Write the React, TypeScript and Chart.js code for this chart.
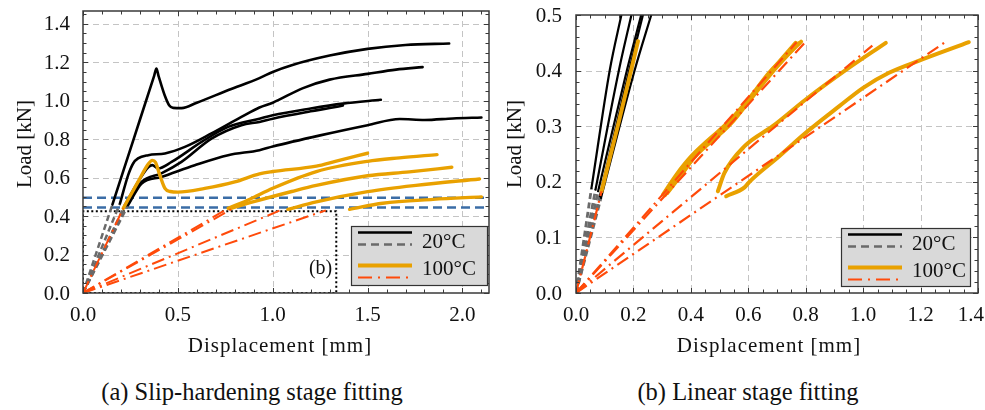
import React, { useEffect, useRef } from "react";
import { Chart, registerables } from "chart.js";

Chart.register(...registerables);

type Pt = [number, number];

// ---------------- panel (a): slip-hardening stage ----------------
const aXTicks = [0, 0.5, 1.0, 1.5, 2.0];
const aYTicks = [0, 0.2, 0.4, 0.6, 0.8, 1.0, 1.2, 1.4];
const aXMax = 2.14;
const aYMax = 1.467;

// 20 °C specimens, measured load above the linear stage [mm, kN]
const a20A: Pt[] = [[0.155, 0.46], [0.27, 0.81], [0.375, 1.13], [0.387, 1.167], [0.398, 1.13], [0.43, 1.03], [0.455, 0.975], [0.475, 0.963], [0.52, 0.962], [0.6, 0.99], [0.77, 1.057], [0.93, 1.118], [1.0, 1.15], [1.1, 1.185], [1.3, 1.235], [1.5, 1.27], [1.7, 1.29], [1.93, 1.298]];
const a20B: Pt[] = [[0.195, 0.466], [0.238, 0.613], [0.265, 0.675], [0.29, 0.7], [0.344, 0.717], [0.432, 0.726], [0.537, 0.76], [0.677, 0.83], [0.835, 0.916], [0.93, 0.965], [1.0, 0.99], [1.16, 1.066], [1.3, 1.11], [1.5, 1.14], [1.65, 1.162], [1.79, 1.175]];
const a20C: Pt[] = [[0.221, 0.457], [0.29, 0.578], [0.345, 0.655], [0.365, 0.665], [0.396, 0.648], [0.467, 0.682], [0.625, 0.786], [0.765, 0.864], [0.93, 0.907], [1.0, 0.925], [1.2, 0.96], [1.37, 0.985], [1.57, 1.005]];
const a20D: Pt[] = [[0.23, 0.457], [0.309, 0.578], [0.413, 0.622], [0.519, 0.682], [0.677, 0.803], [0.835, 0.873], [0.93, 0.89], [1.0, 0.907], [1.2, 0.945], [1.3, 0.962], [1.37, 0.975]];
const a20E: Pt[] = [[0.238, 0.457], [0.309, 0.57], [0.413, 0.604], [0.589, 0.665], [0.765, 0.717], [0.93, 0.743], [1.0, 0.762], [1.25, 0.82], [1.5, 0.873], [1.67, 0.905], [1.8, 0.9], [1.95, 0.908], [2.1, 0.913]];

// 100 °C specimens
const a100A: Pt[] = [[0.212, 0.44], [0.29, 0.578], [0.345, 0.672], [0.365, 0.69], [0.382, 0.68], [0.405, 0.613], [0.432, 0.544], [0.46, 0.528], [0.5, 0.525], [0.642, 0.544], [0.8, 0.578], [0.93, 0.62], [1.0, 0.632], [1.23, 0.66], [1.33, 0.685], [1.5, 0.727]];
const a100B: Pt[] = [[0.765, 0.44], [0.879, 0.488], [1.0, 0.545], [1.23, 0.632], [1.5, 0.685], [1.668, 0.703], [1.866, 0.72]];
const a100C: Pt[] = [[0.78, 0.44], [0.9, 0.475], [1.1, 0.528], [1.23, 0.56], [1.5, 0.61], [1.72, 0.63], [1.944, 0.654]];
const a100D: Pt[] = [[1.08, 0.435], [1.23, 0.474], [1.5, 0.527], [1.755, 0.56], [2.09, 0.593]];
const a100E: Pt[] = [[1.405, 0.435], [1.58, 0.467], [1.845, 0.487], [2.1, 0.5]];

// linear-stage fits run from the origin to these points
const aFit20Ends: Pt[] = [[0.155, 0.46], [0.195, 0.466], [0.221, 0.457], [0.23, 0.457], [0.238, 0.457]];
const aFit100Ends: Pt[] = [[0.212, 0.44], [0.765, 0.44], [0.79, 0.44], [1.04, 0.43], [1.28, 0.43]];

// horizontal reference levels and the extent of panel (b)
const aGuideLoads = [0.495, 0.445];
const aZoomBox: Pt = [1.335, 0.425];

// ---------------- panel (b): linear stage ----------------
const bXTicks = [0, 0.2, 0.4, 0.6, 0.8, 1.0, 1.2, 1.4];
const bYTicks = [0, 0.1, 0.2, 0.3, 0.4, 0.5];
const bXMax = 1.4;
const bYMax = 0.5;

const b20A: Pt[] = [[0.054, 0.189], [0.118, 0.402], [0.158, 0.5]];
const b20B: Pt[] = [[0.068, 0.186], [0.15, 0.402], [0.193, 0.5]];
const b20C: Pt[] = [[0.077, 0.183], [0.178, 0.402], [0.227, 0.5]];
const b20D: Pt[] = [[0.083, 0.174], [0.186, 0.402], [0.233, 0.5]];
const b20E: Pt[] = [[0.087, 0.171], [0.205, 0.402], [0.262, 0.5]];

const b100A: Pt[] = [[0.089, 0.183], [0.15, 0.31], [0.216, 0.453]];
const b100B: Pt[] = [[0.303, 0.177], [0.35, 0.213], [0.402, 0.246], [0.535, 0.31], [0.6, 0.348], [0.674, 0.397], [0.784, 0.452]];
const b100C: Pt[] = [[0.31, 0.176], [0.36, 0.21], [0.41, 0.243], [0.54, 0.305], [0.61, 0.35], [0.68, 0.395], [0.775, 0.449]];
const b100D: Pt[] = [[0.318, 0.18], [0.37, 0.215], [0.42, 0.25], [0.55, 0.315], [0.62, 0.358], [0.69, 0.405], [0.765, 0.45]];
const b100E: Pt[] = [[0.494, 0.183], [0.517, 0.216], [0.587, 0.264], [0.685, 0.3], [0.8, 0.348], [0.934, 0.399], [1.079, 0.45]];
const b100F: Pt[] = [[0.523, 0.174], [0.587, 0.19], [0.604, 0.2], [0.708, 0.246], [0.8, 0.288], [0.917, 0.336], [1.0, 0.369], [1.09, 0.396], [1.206, 0.42], [1.368, 0.451]];

const bFit20Ends: Pt[] = [[0.054, 0.189], [0.068, 0.186], [0.077, 0.183], [0.083, 0.174], [0.087, 0.171]];
const bFit100Ends: Pt[] = [[0.089, 0.183], [0.768, 0.451], [0.8, 0.452], [1.032, 0.445], [1.285, 0.451]];

const legendLabels = ["20°C", "100°C"];
const captions = ["(a) Slip-hardening stage fitting", "(b) Linear stage fitting"];

// ---------------- styling ----------------
const SERIF = '"Liberation Serif", "DejaVu Serif", serif';
const BLACK = "#000000";
const GRAY = "#6a6a6a";
const YELLOW = "#E9A100";
const RED = "#FF4A0A";
const BLUE = "#3B6DA6";
const FRAME = "#3a3a3a";
const DASH_GRAY = [6, 3.5];
const DASH_RED = [13, 5, 2, 5];

function series(points: Pt[], color: string, width: number, dash: number[] = [], smooth = true) {
  return {
    data: points.map(([x, y]) => ({ x, y })),
    borderColor: color,
    backgroundColor: color,
    borderWidth: width,
    borderDash: dash,
    borderCapStyle: dash.length ? "butt" : "round",
    borderJoinStyle: "round",
    pointRadius: 0,
    pointHoverRadius: 0,
    fill: false,
    tension: 0,
    cubicInterpolationMode: smooth ? "monotone" : "default",
  };
}

const fromOrigin = (end: Pt): Pt[] => [[0, 0], end];

type PanelOpts = {
  xTicks: number[];
  yTicks: number[];
  xStep: number;
  yStep: number;
  xMinor: number;
  yMinor: number;
  yLabelGap: number;
  xLabelBase: number;
  xTitleX: number;
  xTitleBase: number;
  yTitleX: number;
  yTitleY: number;
  legend: { w: number; h: number; right: number; bottom: number };
  extra?: (chart: any) => void;
};

function drawLegend(ctx: CanvasRenderingContext2D, lx: number, ty: number, w: number, h: number) {
  ctx.save();
  ctx.fillStyle = "#d9d9d9";
  ctx.fillRect(lx, ty, w, h);
  ctx.strokeStyle = "#333";
  ctx.lineWidth = 1.2;
  ctx.setLineDash([]);
  ctx.strokeRect(lx + 0.5, ty + 0.5, w - 1, h - 1);
  const seg = (dy: number, color: string, width: number, dash: number[]) => {
    ctx.beginPath();
    ctx.strokeStyle = color;
    ctx.lineWidth = width;
    ctx.setLineDash(dash);
    ctx.lineCap = "butt";
    ctx.moveTo(lx + 7, ty + dy);
    ctx.lineTo(lx + 61, ty + dy);
    ctx.stroke();
  };
  seg(6.5, BLACK, 2.5, []);
  seg(18.5, GRAY, 2.5, [8, 5]);
  seg(39.5, YELLOW, 4, []);
  seg(51.5, RED, 2, [14, 6, 2, 6]);
  ctx.fillStyle = "#111";
  ctx.font = `21px ${SERIF}`;
  ctx.textAlign = "left";
  ctx.textBaseline = "middle";
  ctx.fillText(legendLabels[0], lx + 71, ty + 16);
  ctx.fillText(legendLabels[1], lx + 71, ty + 43);
  ctx.restore();
}

const panelPlugin = {
  id: "panel",
  beforeDatasetsDraw(chart: any, _a: any, o: PanelOpts) {
    const { ctx, chartArea: ca, scales } = chart;
    const xs = scales.x;
    const ys = scales.y;
    ctx.save();
    ctx.strokeStyle = "#c4c4c4";
    ctx.lineWidth = 1;
    ctx.setLineDash([6, 4]);
    ctx.beginPath();
    for (const v of o.xTicks) {
      const p = Math.round(xs.getPixelForValue(v)) + 0.5;
      if (p < ca.left + 2 || p > ca.right - 2) continue;
      ctx.moveTo(p, ca.top);
      ctx.lineTo(p, ca.bottom);
    }
    for (const v of o.yTicks) {
      const p = Math.round(ys.getPixelForValue(v)) + 0.5;
      if (p < ca.top + 2 || p > ca.bottom - 2) continue;
      ctx.moveTo(ca.left, p);
      ctx.lineTo(ca.right, p);
    }
    ctx.stroke();
    ctx.restore();
  },
  afterDatasetsDraw(chart: any, _a: any, o: PanelOpts) {
    const { ctx, chartArea: ca, scales } = chart;
    const xs = scales.x;
    const ys = scales.y;
    ctx.save();
    ctx.setLineDash([]);
    ctx.strokeStyle = FRAME;
    ctx.lineWidth = 1;
    ctx.beginPath();
    const isMajor = (v: number, step: number) => Math.abs(v / step - Math.round(v / step)) < 1e-6;
    for (let i = 0; i * o.xMinor <= xs.max + 1e-9; i++) {
      const v = i * o.xMinor;
      const len = isMajor(v, o.xStep) ? 5 : 3.5;
      const p = Math.round(xs.getPixelForValue(v)) + 0.5;
      ctx.moveTo(p, ca.bottom);
      ctx.lineTo(p, ca.bottom - len);
      ctx.moveTo(p, ca.top);
      ctx.lineTo(p, ca.top + len);
    }
    for (let i = 0; i * o.yMinor <= ys.max + 1e-9; i++) {
      const v = i * o.yMinor;
      const len = isMajor(v, o.yStep) ? 5 : 3.5;
      const p = Math.round(ys.getPixelForValue(v)) + 0.5;
      ctx.moveTo(ca.left, p);
      ctx.lineTo(ca.left + len, p);
      ctx.moveTo(ca.right, p);
      ctx.lineTo(ca.right - len, p);
    }
    ctx.stroke();

    ctx.lineWidth = 1.5;
    ctx.strokeRect(ca.left, ca.top, ca.right - ca.left, ca.bottom - ca.top);

    if (o.extra) o.extra(chart);

    // tick labels
    ctx.fillStyle = "#111";
    ctx.font = `21px ${SERIF}`;
    ctx.textAlign = "right";
    ctx.textBaseline = "middle";
    for (const v of o.yTicks) ctx.fillText(v.toFixed(1), ca.left - o.yLabelGap, ys.getPixelForValue(v) + 1);
    ctx.textAlign = "center";
    ctx.textBaseline = "alphabetic";
    for (const v of o.xTicks) {
      const s = v.toFixed(1);
      const w = ctx.measureText(s).width;
      const cx = Math.min(xs.getPixelForValue(v), chart.width - 1 - w / 2);
      ctx.fillText(s, cx, o.xLabelBase);
    }

    // axis titles
    (ctx as any).letterSpacing = "1px";
    ctx.fillText("Displacement [mm]", o.xTitleX, o.xTitleBase);
    (ctx as any).letterSpacing = "0px";
    ctx.save();
    ctx.translate(o.yTitleX, o.yTitleY);
    ctx.rotate(-Math.PI / 2);
    ctx.fillText("Load [kN]", 0, 0);
    ctx.restore();

    const L = o.legend;
    drawLegend(ctx, ca.right - L.right - L.w, ca.bottom - L.bottom - L.h, L.w, L.h);
    ctx.restore();
  },
};

function buildConfig(datasets: any[], xMax: number, yMax: number, ca: { left: number; top: number; right: number; xh: number }, panel: PanelOpts) {
  const ordered = datasets.map((d, i) => ({ ...d, order: datasets.length - i }));
  return {
    type: "line",
    data: { datasets: ordered },
    plugins: [panelPlugin],
    options: {
      animation: false,
      responsive: false,
      devicePixelRatio: 1,
      events: [],
      layout: { padding: { left: 0, top: ca.top, right: ca.right, bottom: 0 } },
      plugins: { legend: { display: false }, tooltip: { enabled: false }, panel },
      elements: { point: { radius: 0 } },
      scales: {
        x: {
          type: "linear",
          min: 0,
          max: xMax,
          grid: { display: false },
          border: { display: false },
          ticks: { display: false },
          afterFit: (s: any) => {
            s.height = ca.xh;
            s.paddingLeft = 0;
            s.paddingRight = 0;
          },
        },
        y: {
          type: "linear",
          min: 0,
          max: yMax,
          grid: { display: false },
          border: { display: false },
          ticks: { display: false },
          afterFit: (s: any) => {
            s.width = ca.left;
            s.paddingTop = 0;
            s.paddingBottom = 0;
          },
        },
      },
    },
  };
}

function panelAConfig() {
  const ds: any[] = [];
  for (const y of aGuideLoads) ds.push(series([[0, y], [aXMax, y]], BLUE, 2.5, [9, 5], false));
  ds.push(series([[0, 0], [0, aZoomBox[1]], aZoomBox, [aZoomBox[0], 0], [0, 0]], BLACK, 2, [2, 2.5], false));
  for (const e of aFit20Ends) ds.push(series(fromOrigin(e), GRAY, 2.5, DASH_GRAY, false));
  for (const c of [a20A, a20B, a20C, a20D, a20E]) ds.push(series(c, BLACK, 2.6));
  for (const c of [a100A, a100B, a100C, a100D, a100E]) ds.push(series(c, YELLOW, 3.4));
  for (const e of aFit100Ends) ds.push(series(fromOrigin(e), RED, 2, DASH_RED, false));
  const panel: PanelOpts = {
    xTicks: aXTicks,
    yTicks: aYTicks,
    xStep: 0.5,
    yStep: 0.2,
    xMinor: 0.1,
    yMinor: 0.05,
    yLabelGap: 13,
    xLabelBase: 321,
    xTitleX: 280,
    xTitleBase: 352,
    yTitleX: 31,
    yTitleY: 144,
    legend: { w: 137, h: 60, right: 1, bottom: 7 },
    extra: (chart: any) => {
      const { ctx, scales } = chart;
      ctx.save();
      ctx.fillStyle = "#111";
      ctx.font = `20px ${SERIF}`;
      ctx.textAlign = "right";
      ctx.textBaseline = "alphabetic";
      ctx.fillText("(b)", scales.x.getPixelForValue(aZoomBox[0]) - 4, scales.y.getPixelForValue(0) - 19);
      ctx.restore();
    },
  };
  return buildConfig(ds, aXMax, aYMax, { left: 83, top: 11, right: 1, xh: 67 }, panel);
}

function panelBConfig() {
  const ds: any[] = [];
  for (const e of bFit20Ends) ds.push(series(fromOrigin(e), GRAY, 2.8, DASH_GRAY, false));
  for (const c of [b20A, b20B, b20C, b20D, b20E]) ds.push(series(c, BLACK, 2.2));
  for (const c of [b100A, b100B, b100C, b100D, b100E, b100F]) ds.push(series(c, YELLOW, 4));
  for (const e of bFit100Ends) ds.push(series(fromOrigin(e), RED, 2.2, DASH_RED, false));
  const panel: PanelOpts = {
    xTicks: bXTicks,
    yTicks: bYTicks,
    xStep: 0.2,
    yStep: 0.1,
    xMinor: 0.05,
    yMinor: 0.02,
    yLabelGap: 14,
    xLabelBase: 321,
    xTitleX: 279,
    xTitleBase: 352,
    yTitleX: 31,
    yTitleY: 144,
    legend: { w: 130, h: 59, right: 7, bottom: 6 },
  };
  return buildConfig(ds, bXMax, bYMax, { left: 86, top: 15, right: 7, xh: 67 }, panel);
}

function Panel({ left, width, make }: { left: number; width: number; make: () => any }) {
  const ref = useRef<HTMLCanvasElement>(null);
  useEffect(() => {
    const chart = new Chart(ref.current as HTMLCanvasElement, make());
    return () => chart.destroy();
  }, []);
  return (
    <canvas
      ref={ref}
      width={width}
      height={360}
      style={{ position: "absolute", left, top: 0, width, height: 360, display: "block" }}
    />
  );
}

export default function App() {
  const cap: React.CSSProperties = {
    position: "absolute",
    top: 378,
    fontFamily: SERIF,
    fontSize: "24.5px",
    lineHeight: "28px",
    color: "#111",
    textAlign: "center",
    whiteSpace: "nowrap",
  };
  return (
    <div style={{ position: "fixed", left: 0, top: 0, width: 985, height: 410, background: "#fff", overflow: "hidden" }}>
      <Panel left={0} width={490} make={panelAConfig} />
      <Panel left={490} width={495} make={panelBConfig} />
      <div style={{ ...cap, left: 0, width: 504 }}>{captions[0]}</div>
      <div style={{ ...cap, left: 496, width: 504 }}>{captions[1]}</div>
    </div>
  );
}
